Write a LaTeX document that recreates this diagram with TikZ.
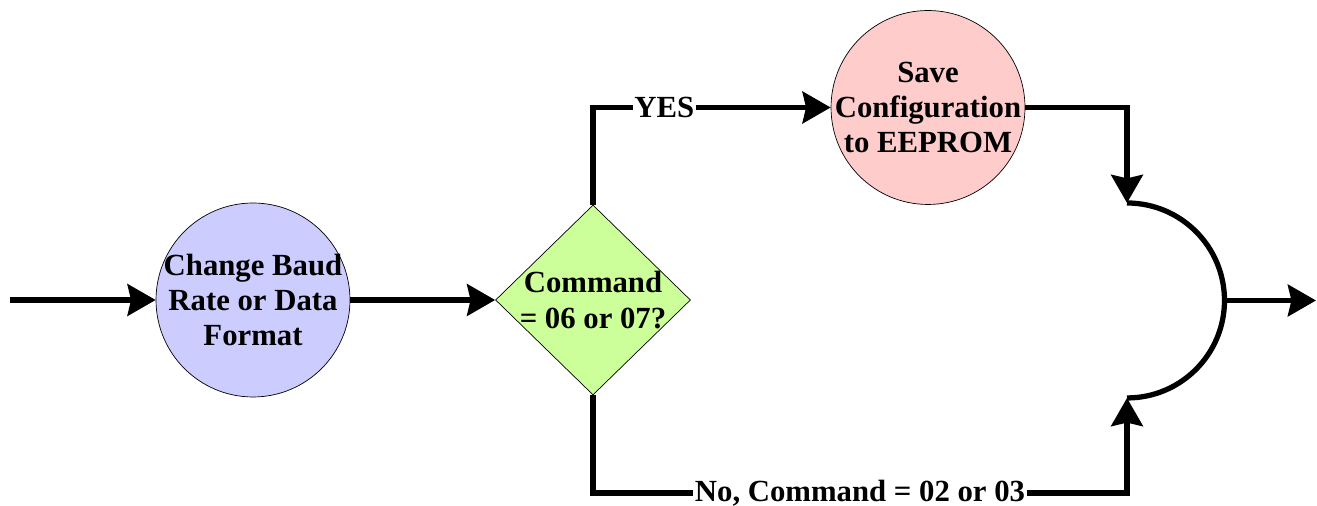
\documentclass[tikz,border=0pt]{standalone}
\usepackage{fontspec}
\setmainfont{Liberation Serif}
\usepackage{xcolor}
\usetikzlibrary{shapes.geometric, arrows.meta, positioning}

\definecolor{baudblue}{HTML}{CCCCFF}
\definecolor{cmdgreen}{HTML}{CCFF99}
\definecolor{savepink}{HTML}{FFCCCC}

\begin{document}
\begin{tikzpicture}[x=0.02cm, y=0.02cm,
    every node/.style={font=\fontsize{17.5}{20}\selectfont\bfseries},
    bubble/.style={draw, circle, thin, minimum size=3.88cm, inner sep=0pt},
    decide/.style={draw, diamond, thin, minimum width=3.9cm, minimum height=3.8cm, inner sep=0pt},
    inside/.style={label={[align=center]center:#1}},
    flow/.style={line width=3pt, -{Stealth[length=16pt, width=18pt, inset=2pt]}},
    wire/.style={line width=3pt},
    tag/.style={fill=white, inner sep=1pt}]
    \useasboundingbox (0,0) rectangle (1317,506);

    % the three steps
    \node[bubble, fill=baudblue, inside={Change Baud\\Rate or Data\\Format}] (baud) at (253,206) {};
    \node[decide, fill=cmdgreen, inside={Command\\= 06 or 07?}] (cmd) at (593,206) {};
    \node[bubble, fill=savepink, inside={Save\\Configuration\\to EEPROM}] (save) at (928,398.5) {};

    % points of the merge
    \coordinate (start) at (10,206);
    \coordinate (mtop) at (1127,303);
    \coordinate (mbot) at (1127,108);
    \coordinate (mout) at (1224.5,205.5);
    \coordinate (finish) at (1316,205.5);
    \coordinate (low) at (593,13);

    \draw[flow] (start) -- (baud);
    \draw[flow] (baud) -- (cmd);
    \draw[flow] (cmd.north) |- node[tag, pos=0.65] {YES} (save);
    \draw[flow] (save) -| (mtop);
    \draw[flow] (cmd.south) -- (low) -| node[tag, pos=0.25] {No, Command = 02 or 03} (mbot);
    \draw[wire] (mtop) arc[start angle=90, end angle=-90, radius=1.95cm];
    \draw[flow] (mout) -- (finish);
\end{tikzpicture}
\end{document}
